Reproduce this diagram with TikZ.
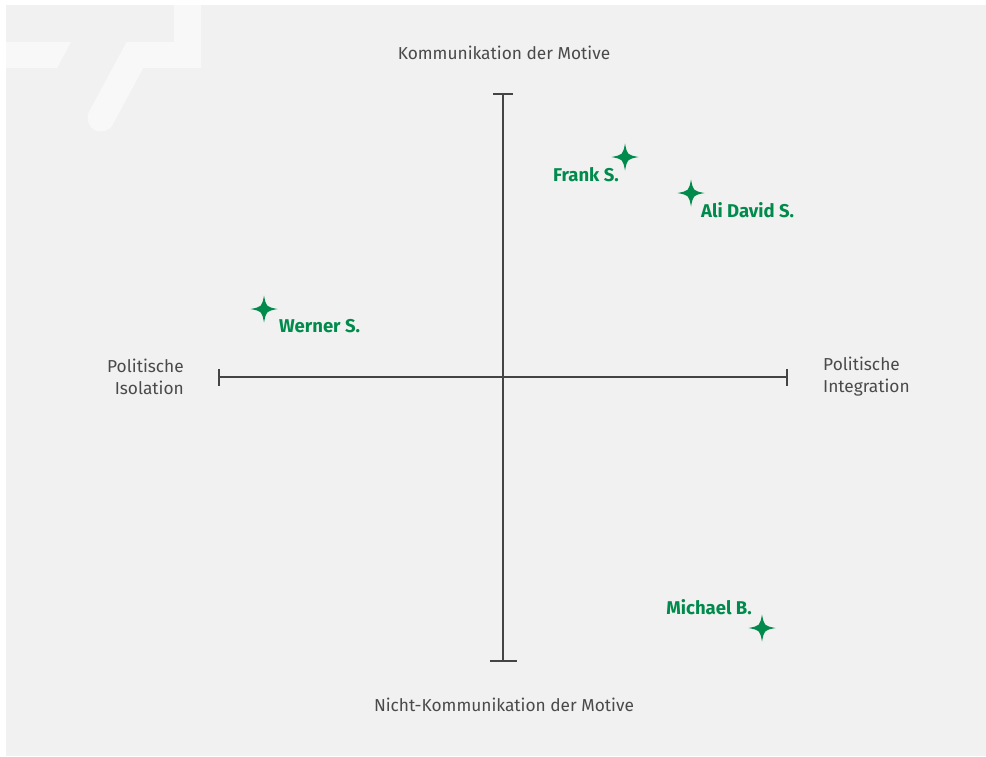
\documentclass[tikz,border=0pt]{standalone}
\usepackage{fontspec}
\setmainfont{Fira Sans}
\newfontfamily\namefont{Fira Sans Bold}
\begin{document}
\definecolor{panel}{HTML}{F1F1F1}
\definecolor{deco}{HTML}{F8F8F8}
\definecolor{axisgrey}{HTML}{444444}
\definecolor{labelgrey}{HTML}{4A4A4A}
\definecolor{markgreen}{HTML}{008A4B}
\begin{tikzpicture}[x=1pt,y=-1pt,
  axisline/.style={draw=axisgrey,line width=2pt},
  axislabel/.style={text=labelgrey,font=\fontsize{17.3}{22}\selectfont,inner sep=0pt},
  personname/.style={text=markgreen,font=\namefont\fontsize{18.5}{21}\selectfont,inner sep=0pt},
  starmark/.style={fill=markgreen,draw=none}]
  % canvas and panel
  \useasboundingbox (0,0) rectangle (986,756);
  \fill[white] (0,0) rectangle (986,756);
  \fill[panel] (6,5) rectangle (986,756);
  % decorative mark in the upper left corner
  \fill[deco] (6,42) -- (71,42) -- (57,68) -- (6,68) -- cycle;
  \fill[deco] (174,5) rectangle (201,68);
  \fill[deco] (135,42) rectangle (201,68);
  \begin{scope}
    \clip (60,42) rectangle (210,160);
    \draw[deco,line width=27pt,line cap=round] (101,118) -- (150,27);
  \end{scope}
  % axes
  \coordinate (top) at (503,94);
  \coordinate (bottom) at (503,661);
  \coordinate (left) at (219,377);
  \coordinate (right) at (787,377);
  \draw[axisline] (top) -- (bottom);
  \draw[axisline] (left) -- (right);
  \draw[axisline] (493,94) -- (513,94);
  \draw[axisline] (490,661) -- (517,661);
  \draw[axisline] (219,369) -- (219,386);
  \draw[axisline] (787,369) -- (787,386);
  % axis labels
  \node[axislabel] (komm) at (504,53) {Kommunikation der Motive};
  \node[axislabel] (nicht) at (504,705) {Nicht-Kommunikation der Motive};
  \node[axislabel,anchor=east,align=right] (iso) at (184,377) {Politische\\Isolation};
  \node[axislabel,anchor=west,align=left] (integ) at (823,377) {Politische\\Integration};
  % four-pointed stars
  \foreach \nm/\cx/\cy in {frank/625/157,ali/691/193,werner/264/309,michael/762/628}{
    \fill[starmark] (\cx,\cy-13.5) .. controls (\cx+2.2,\cy-2.2) .. (\cx+13.5,\cy)
      .. controls (\cx+2.2,\cy+2.2) .. (\cx,\cy+13.5)
      .. controls (\cx-2.2,\cy+2.2) .. (\cx-13.5,\cy)
      .. controls (\cx-2.2,\cy-2.2) .. cycle;
    \coordinate (\nm) at (\cx,\cy);
  }
  % names
  \node[personname,anchor=east] (frankname) at (619,175) {Frank S.};
  \node[personname,anchor=west] (aliname) at (701,210) {Ali David S.};
  \node[personname,anchor=west] (wernername) at (279,326) {Werner S.};
  \node[personname,anchor=east] (michaelname) at (752,607) {Michael B.};
\end{tikzpicture}
\end{document}
